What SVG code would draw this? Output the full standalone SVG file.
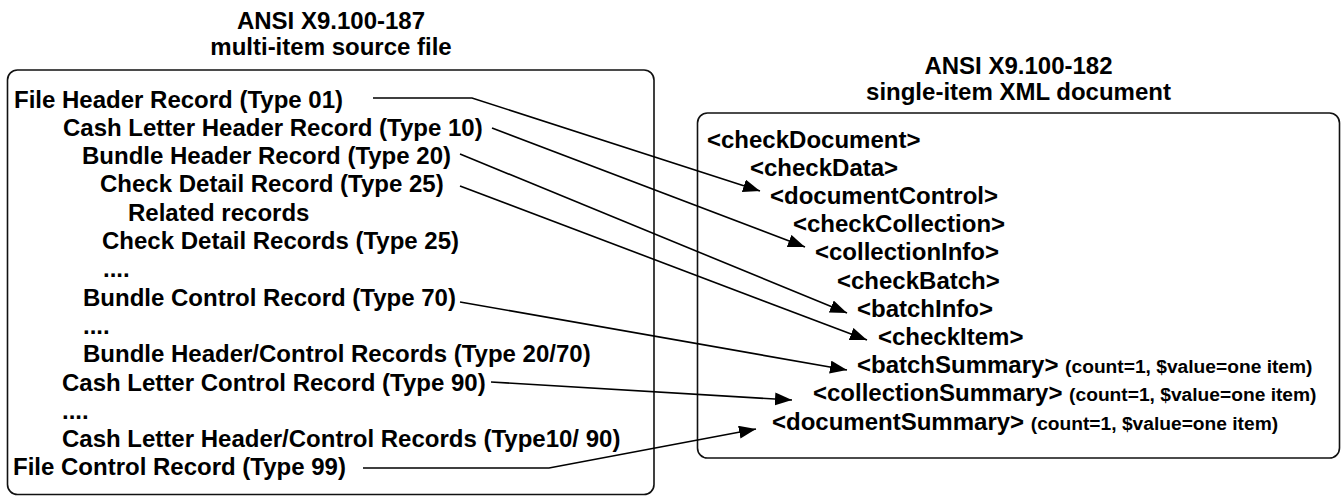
<svg xmlns="http://www.w3.org/2000/svg" width="1341" height="496" viewBox="0 0 1341 496">
  <style>
    .t { font-family: "Liberation Sans", Arial, sans-serif; font-weight: bold; font-size: 24px; fill: #000; }
    .s { font-size: 19.2px; }
    .box { fill: #fff; stroke: #111; stroke-width: 1.6; }
    .link { fill: none; stroke: #000; stroke-width: 1.6; marker-end: url(#head); }
  </style>
  <defs>
    <marker id="head" markerUnits="userSpaceOnUse" markerWidth="18" markerHeight="14" refX="17" refY="6.5" orient="auto">
      <path d="M0,0 L17,6.5 L0,13 z" fill="#000"/>
    </marker>
  </defs>
  <rect width="1341" height="496" fill="#fff"/>

  <!-- source file (X9.100-187) -->
  <g id="source-file">
    <text class="t" text-anchor="middle" x="331" y="29">ANSI X9.100-187</text>
    <text class="t" text-anchor="middle" x="331" y="55">multi-item source file</text>
    <rect class="box" x="7.5" y="70" width="646.5" height="424.5" rx="10"/>
    <text class="t" x="14" y="107.5">File Header Record (Type 01)</text>
    <text class="t" x="63" y="135.8">Cash Letter Header Record (Type 10)</text>
    <text class="t" x="82" y="164.1">Bundle Header Record (Type 20)</text>
    <text class="t" x="100" y="192.4">Check Detail Record (Type 25)</text>
    <text class="t" x="128" y="220.7">Related records</text>
    <text class="t" x="102" y="249">Check Detail Records (Type 25)</text>
    <text class="t" x="103" y="277.3">....</text>
    <text class="t" x="83" y="305.6">Bundle Control Record (Type 70)</text>
    <text class="t" x="83" y="333.9">....</text>
    <text class="t" x="83" y="362.2">Bundle Header/Control Records (Type 20/70)</text>
    <text class="t" x="62" y="390.5">Cash Letter Control Record (Type 90)</text>
    <text class="t" x="62" y="418.8">....</text>
    <text class="t" x="62" y="447.1">Cash Letter Header/Control Records (Type10/ 90)</text>
    <text class="t" x="13" y="475.4">File Control Record (Type 99)</text>
  </g>

  <!-- XML document (X9.100-182) -->
  <g id="xml-document">
    <text class="t" text-anchor="middle" x="1018.5" y="74">ANSI X9.100-182</text>
    <text class="t" text-anchor="middle" x="1018.5" y="100">single-item XML document</text>
    <rect class="box" x="697.5" y="113" width="642" height="345" rx="10"/>
    <text class="t" x="707" y="147.5">&lt;checkDocument&gt;</text>
    <text class="t" x="750" y="175.7">&lt;checkData&gt;</text>
    <text class="t" x="770" y="203.9">&lt;documentControl&gt;</text>
    <text class="t" x="793" y="232.1">&lt;checkCollection&gt;</text>
    <text class="t" x="815" y="260.3">&lt;collectionInfo&gt;</text>
    <text class="t" x="837" y="288.5">&lt;checkBatch&gt;</text>
    <text class="t" x="857" y="316.7">&lt;batchInfo&gt;</text>
    <text class="t" x="878" y="344.9">&lt;checkItem&gt;</text>
    <text class="t" x="857" y="373.1">&lt;batchSummary&gt; <tspan class="s">(count=1, $value=one item)</tspan></text>
    <text class="t" x="813" y="401.3">&lt;collectionSummary&gt; <tspan class="s">(count=1, $value=one item)</tspan></text>
    <text class="t" x="772" y="429.5">&lt;documentSummary&gt; <tspan class="s">(count=1, $value=one item)</tspan></text>
  </g>

  <!-- record-to-element mappings -->
  <g id="connectors">
    <path class="link" d="M373,98 H472 L760,191"/>
    <path class="link" d="M492,128 L805,247"/>
    <path class="link" d="M460,154 L847,313"/>
    <path class="link" d="M460,186 L867,340"/>
    <path class="link" d="M460,302 L847,370"/>
    <path class="link" d="M491,382 L792,400"/>
    <path class="link" d="M363,468 H549 L756,429"/>
  </g>
</svg>
